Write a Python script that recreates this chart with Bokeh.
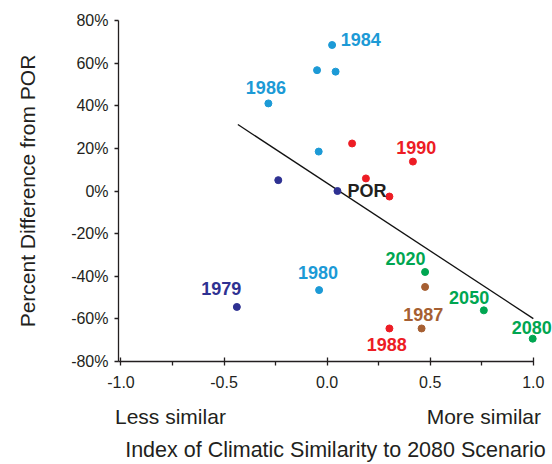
from bokeh.plotting import figure
from bokeh.models import (ColumnDataSource, LabelSet, FixedTicker, Range1d,
                          NumeralTickFormatter, LinearAxis)
from bokeh.core.properties import value
from bokeh.embed import file_html
from bokeh.resources import INLINE

# ---------------- data ----------------
x_ticks = [-1.0, -0.5, 0.0, 0.5, 1.0]
x_minor_ticks = [-0.75, -0.25, 0.25, 0.75]
y_ticks = [-80, -60, -40, -20, 0, 20, 40, 60, 80]
y_tick_labels = ["-80%", "-60%", "-40%", "-20%", "0%", "20%", "40%", "60%", "80%"]

# series: similarity index (x) and percent difference from POR (y)
blue_x = [0.024, -0.049, 0.041, -0.285, -0.041, -0.039]
blue_y = [68.5, 56.7, 56.0, 41.1, 18.5, -46.5]
blue_labels = ["1984", "", "", "1986", "", "1980"]

red_x = [0.121, 0.416, 0.188, 0.302, 0.302]
red_y = [22.3, 13.8, 5.9, -2.6, -64.5]
red_labels = ["", "1990", "", "", "1988"]

navy_x = [-0.237, -0.438]
navy_y = [5.1, -54.4]
navy_labels = ["", "1979"]

por_x = [0.05]
por_y = [0.0]
por_labels = ["POR"]

brown_x = [0.475, 0.458]
brown_y = [-45.0, -64.5]
brown_labels = ["", "1987"]

green_x = [0.475, 0.760, 0.997]
green_y = [-38.0, -56.0, -69.3]
green_labels = ["2020", "2050", "2080"]

trend_x = [-0.433, 1.0]
trend_y = [31.2, -59.9]

x_title = "Index of Climatic Similarity to 2080 Scenario"
y_title = "Percent Difference from POR"
end_notes = ["Less similar", "More similar"]

# ---------------- styles ----------------
TXT = "#231f20"
FONT = "Liberation Sans"
series = [
    (blue_x, blue_y, blue_labels, "#1c9ad6", "#1c9ad6"),
    (red_x, red_y, red_labels, "#ed1c24", "#ed1c24"),
    (navy_x, navy_y, navy_labels, "#2e3192", "#2e3192"),
    (por_x, por_y, por_labels, "#2e3192", TXT),
    (brown_x, brown_y, brown_labels, "#a65f32", "#a65f32"),
    (green_x, green_y, green_labels, "#00a651", "#00a651"),
]
# label offsets in screen pixels (dx, dy up)
label_offsets = {
    "1984": (28.7, 6), "1986": (-2.5, 16), "1990": (3.3, 13.6),
    "POR": (29.5, -0.3), "1979": (-15.5, 18.7), "1980": (-1, 17.8),
    "2020": (-19.5, 13), "2050": (-14.7, 13.3), "1987": (1.6, 14),
    "1988": (-2.6, -16), "2080": (-1, 11.4),
}
note_positions = [-0.76, 0.76]   # where the two end notes are centred

pts = dict(x=[], y=[], color=[])
lbl = dict(x=[], y=[], text=[], tcolor=[], dx=[], dy=[])
for xs, ys, labs, col, tcol in series:
    for xv, yv, lab in zip(xs, ys, labs):
        pts["x"].append(xv); pts["y"].append(yv); pts["color"].append(col)
        if lab:
            dx, dy = label_offsets[lab]
            lbl["x"].append(xv); lbl["y"].append(yv); lbl["text"].append(lab)
            lbl["tcolor"].append(tcol); lbl["dx"].append(dx); lbl["dy"].append(dy)

p = figure(width=552, height=464, output_backend="svg", toolbar_location=None,
           x_range=Range1d(-1.012, 1.093), y_range=Range1d(-80, 80),
           min_border_left=118, min_border_right=0, min_border_top=20,
           min_border_bottom=101)
p.grid.visible = False
p.outline_line_color = None
p.background_fill_color = "white"
p.border_fill_color = "white"

p.line(trend_x, trend_y, line_color="#111111", line_width=1.3)
p.scatter("x", "y", source=ColumnDataSource(pts), size=7,
          fill_color="color", line_color="color")

p.add_layout(LabelSet(x="x", y="y", text="text", x_offset="dx", y_offset="dy",
                      source=ColumnDataSource(lbl), text_color="tcolor",
                      text_font=value(FONT), text_font_size="18px",
                      text_font_style="bold", text_align="center",
                      text_baseline="middle"))

xa = p.xaxis[0]
ya = p.yaxis[0]
xa.bounds = (-1.012, 1.0)
xa.ticker = FixedTicker(ticks=x_ticks, minor_ticks=x_minor_ticks)
xa.formatter = NumeralTickFormatter(format="0.0")
ya.ticker = FixedTicker(ticks=y_ticks)
ya.major_label_overrides = {int(t): l for t, l in zip(y_ticks, y_tick_labels)}
ya.axis_label = y_title

# second axis below: end notes and the axis title
xb = LinearAxis(ticker=FixedTicker(ticks=note_positions, minor_ticks=[]),
                major_label_overrides={float(t): s for t, s in zip(note_positions, end_notes)},
                axis_label=x_title)
p.add_layout(xb, "below")

for ax in (xa, ya, xb):
    ax.axis_line_color = TXT
    ax.axis_line_width = 1.3
    ax.major_tick_line_color = TXT
    ax.major_tick_line_width = 1.3
    ax.minor_tick_line_color = TXT
    ax.minor_tick_line_width = 1.3
    ax.major_label_text_font = FONT
    ax.major_label_text_font_size = "16px"
    ax.major_label_text_color = TXT
    ax.axis_label_text_font = FONT
    ax.axis_label_text_font_size = "21px"
    ax.axis_label_text_font_style = "normal"
    ax.axis_label_text_color = TXT
xa.major_tick_in = 4
xa.major_tick_out = 4
xa.minor_tick_in = 0
xa.minor_tick_out = 4
xa.major_label_standoff = 10
ya.major_tick_in = 0
ya.major_tick_out = 4
ya.minor_tick_line_color = None
ya.major_label_standoff = 6
ya.axis_label_standoff = 29

xb.axis_line_color = None
xb.major_tick_line_color = None
xb.minor_tick_line_color = None
xb.major_tick_in = 0
xb.major_tick_out = 0
xb.minor_tick_in = 0
xb.minor_tick_out = 0
xb.major_label_text_font_size = "21px"
xb.major_label_standoff = 14
xb.axis_label_standoff = 7
xb.axis_label_text_font_size = "21.5px"

open("out.html", "w").write(file_html(p, INLINE))
